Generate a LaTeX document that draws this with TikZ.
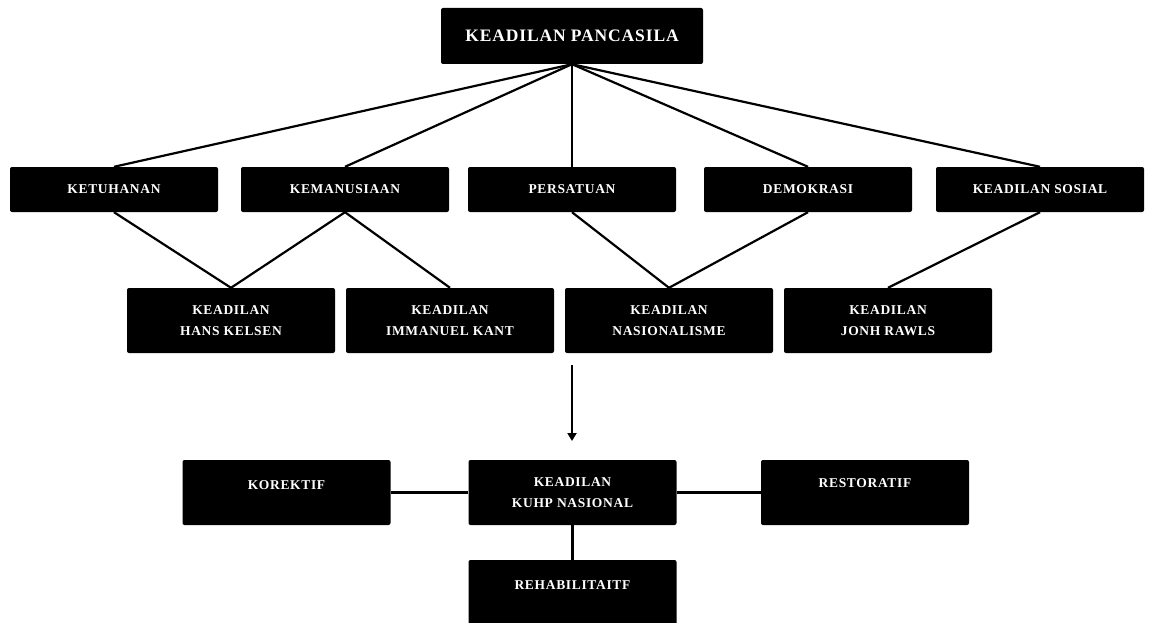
\documentclass[tikz,border=0pt]{standalone}
\usepackage{fontspec}
\setmainfont{Liberation Serif}[LetterSpace=5]
\usetikzlibrary{arrows.meta}
\begin{document}
\begin{tikzpicture}[x=1pt,y=-1pt,
  box/.style={fill=black,draw=none,rounded corners=2pt,minimum width=208pt,minimum height=45pt,inner sep=0pt},
  tallbox/.style={box,minimum height=65pt},
  txt/.style={text=white,font=\bfseries\fontsize{13.5}{21}\selectfont,align=center,inner sep=0pt},
  conn/.style={line width=2.2pt,black}]
\useasboundingbox (0,0) rectangle (1150,623);
% top
\node[box,minimum width=262pt,minimum height=56pt] (top) at (572,36) {};
\node[txt,font=\bfseries\fontsize{17.5}{20}\selectfont] (topT) at (top.center) {KEADILAN PANCASILA};
% row 2
\node[box] (ket) at (114,189.5) {};
\node[box] (kem) at (345,189.5) {};
\node[box] (per) at (572,189.5) {};
\node[box] (dem) at (808,189.5) {};
\node[box] (sos) at (1040,189.5) {};
\node[txt] (ketT) at (ket.center) {KETUHANAN};
\node[txt] (kemT) at (kem.center) {KEMANUSIAAN};
\node[txt] (perT) at (per.center) {PERSATUAN};
\node[txt] (demT) at (dem.center) {DEMOKRASI};
\node[txt] (sosT) at (sos.center) {KEADILAN SOSIAL};
% row 3
\node[tallbox] (han) at (231,320.5) {};
\node[tallbox] (kan) at (450,320.5) {};
\node[tallbox] (nas) at (669,320.5) {};
\node[tallbox] (raw) at (888,320.5) {};
\node[txt] (hanT) at (han.center) {KEADILAN\\HANS KELSEN};
\node[txt] (kanT) at (kan.center) {KEADILAN\\IMMANUEL KANT};
\node[txt] (nasT) at (nas.center) {KEADILAN\\NASIONALISME};
\node[txt] (rawT) at (raw.center) {KEADILAN\\JONH RAWLS};
% bottom
\node[tallbox] (kor) at (286.5,492.5) {};
\node[tallbox] (kuhp) at (572.5,492.5) {};
\node[tallbox] (res) at (865,492.5) {};
\node[tallbox] (reh) at (572.5,592.5) {};
\node[txt] (korT) at (286.5,485) {KOREKTIF};
\node[txt] (kuhpT) at (kuhp.center) {KEADILAN\\KUHP NASIONAL};
\node[txt] (resT) at (865,483) {RESTORATIF};
\node[txt] (rehT) at (572.5,585) {REHABILITAITF};
% arrow
\coordinate (aS) at (572,365);
\coordinate (aE) at (572,441);
% connectors
\foreach \n in {ket,kem,per,dem,sos} \draw[conn] (top.south) -- (\n.north);
\draw[conn] (ket.south) -- (han.north);
\draw[conn] (kem.south) -- (han.north);
\draw[conn] (kem.south) -- (kan.north);
\draw[conn] (per.south) -- (nas.north);
\draw[conn] (dem.south) -- (nas.north);
\draw[conn] (sos.south) -- (raw.north);
\draw[conn,-{Triangle[width=9pt,length=8pt]}] (aS) -- (aE);
\draw[conn] (kor.east) -- (kuhp.west);
\draw[conn] (kuhp.east) -- (res.west);
\draw[conn] (kuhp.south) -- (reh.north);
\end{tikzpicture}
\end{document}
